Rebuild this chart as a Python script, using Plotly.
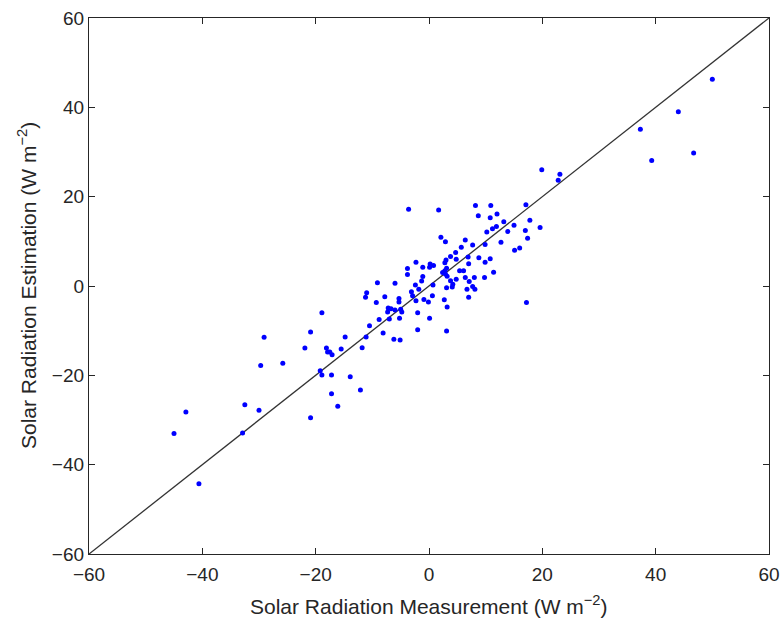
import plotly.graph_objects as go

# Measurement (x) and estimation (y), W m^-2
measured = [
    -3.6, 1.7, 8.2, 10.9, 17.1, 8.7, 10.8, 12.0, 17.8, 13.2,
    11.2, 11.9, 10.2, 15.0, 19.6, 13.9, 17.0, 17.4, 12.7, 9.9,
    16.0, 15.1, 2.1, 2.9, 6.4, 7.7, 5.7, 4.7, 3.8, 3.0,
    4.8, 6.9, 8.8, 10.8, 9.9, 7.0, -2.3, -3.8, -3.8, -1.1,
    0.2, 0.1, 0.8, 2.8, 3.1, 2.8, 2.4, 2.9, 3.2, 5.4,
    6.1, 11.4, 9.8, 8.0, 6.4, 4.8, 3.8, 4.2, 4.1, 7.1,
    7.7, 8.1, 6.7, 7.0, 3.1, 0.7, -1.1, -1.3, -2.4, -1.8,
    -3.1, 0.6, -0.9, -0.1, -2.3, 2.7, 3.2, -2.0, 0.1, 3.1,
    -2.0, 17.2, -6.0, -9.1, -11.0, -11.2, -7.8, -5.3, -5.3, -9.3,
    -7.2, -7.3, -6.7, -6.0, -5.0, -4.8, -2.9, -7.0, -8.8, -5.2,
    -10.5, -8.1, -6.2, -5.1, -11.1, -14.8, -11.8, -15.5,
    -18.9, -20.9, -29.1, -21.9, -18.1, -17.9, -17.5, -17.1, -29.7, -25.8,
    -19.2, -18.9, -17.2, -13.9, -12.1, -17.2, -16.1, -32.5, -30.0, -20.9,
    -42.9, -45.0, -32.9, -40.6,
    50.0, 44.0, 37.3, 39.3, 46.7, 19.9, 23.1, 22.8,
]
estimated = [
    17.2, 17.0, 18.0, 18.0, 18.2, 15.7, 15.3, 16.1, 14.7, 14.4,
    12.8, 13.3, 12.1, 13.6, 13.1, 12.2, 12.4, 10.7, 9.8, 9.3,
    8.5, 8.0, 10.9, 9.9, 10.3, 9.2, 8.7, 7.5, 6.6, 5.8,
    6.0, 6.5, 6.3, 6.1, 5.3, 5.0, 5.3, 3.9, 2.6, 4.2,
    4.9, 4.2, 4.6, 5.2, 4.0, 3.4, 3.0, 2.7, 2.2, 3.4,
    3.4, 3.1, 1.9, 1.9, 1.9, 1.5, 1.2, 0.4, -0.2, 1.0,
    -0.1, -0.7, -0.7, -2.5, -0.4, 0.2, 2.1, 1.1, 0.2, -0.7,
    -1.3, -2.2, -3.0, -3.6, -3.3, -3.1, -4.7, -6.0, -7.2, -10.1,
    -9.8, -3.7, 0.6, 0.7, -1.5, -2.5, -2.4, -2.8, -3.6, -3.7,
    -4.9, -5.8, -5.1, -5.4, -5.2, -5.8, -2.2, -7.4, -7.5, -7.2,
    -8.9, -10.5, -11.9, -12.1, -11.4, -11.4, -13.8, -14.1,
    -6.0, -10.3, -11.5, -13.9, -13.9, -14.8, -14.8, -15.4, -17.8, -17.3,
    -19.0, -19.9, -19.9, -20.3, -23.3, -24.1, -26.9, -26.6, -27.8, -29.5,
    -28.2, -33.0, -32.9, -44.3,
    46.3, 39.0, 35.1, 28.1, 29.8, 26.0, 25.0, 23.7,
]

axis_range = [-60, 60]
tick_vals = [-60, -40, -20, 0, 20, 40, 60]
x_title = "Solar Radiation Measurement (W m<sup>−2</sup>)"
y_title = "Solar Radiation Estimation (W m<sup>−2</sup>)"

FONT = "Liberation Sans, Arial, sans-serif"
INK = "#262626"

fig = go.Figure()
fig.add_trace(go.Scatter(
    x=axis_range, y=axis_range, mode="lines",
    line=dict(color="#333333", width=1.3), showlegend=False, hoverinfo="skip",
))
fig.add_trace(go.Scatter(
    x=measured, y=estimated, mode="markers",
    marker=dict(color="#0000ff", size=5, line=dict(width=0)),
    showlegend=False,
))

axis_common = dict(
    range=axis_range, tickvals=tick_vals, showgrid=False, zeroline=False,
    showline=True, linecolor=INK, linewidth=1.3, mirror="ticks",
    ticks="inside", ticklen=6, tickwidth=1, tickcolor=INK,
    automargin=False, ticklabeloverflow="allow",
    tickfont=dict(family=FONT, size=19, color=INK),
)

W, H = 782, 619
ML, MR, MT, MB = 89, 13, 18, 65
plot_w = W - ML - MR
plot_h = H - MT - MB

fig.update_layout(
    width=W, height=H,
    margin=dict(l=ML, r=MR, t=MT, b=MB),
    paper_bgcolor="white", plot_bgcolor="white",
    font=dict(family=FONT, color=INK),
    xaxis=dict(**axis_common, ticklabelstandoff=3),
    yaxis=dict(**axis_common),
    annotations=[
        dict(text=x_title, xref="paper", yref="paper",
             x=0.5, y=-(605 - 554) / plot_h, xanchor="center", yanchor="middle",
             showarrow=False, font=dict(family=FONT, size=21, color=INK)),
        dict(text=y_title, xref="paper", yref="paper", textangle=-90,
             x=(27 - 89) / plot_w, y=0.5, xanchor="center", yanchor="middle",
             showarrow=False, font=dict(family=FONT, size=21, color=INK)),
    ],
)

fig.write_html(
    "out.html",
    config={"displayModeBar": False},
    post_script="document.body.style.margin='0';document.body.style.overflow='hidden';",
)
